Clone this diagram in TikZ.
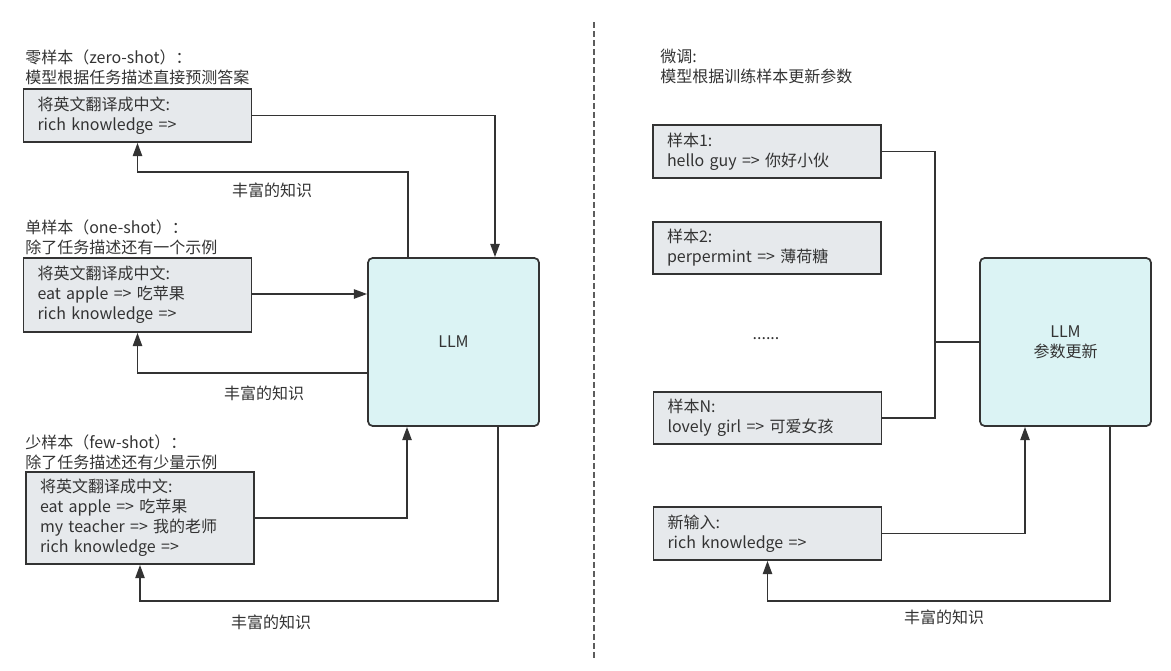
\documentclass[tikz,border=0pt]{standalone}
\usepackage{fontspec}
\setmainfont{Noto Sans CJK SC}
\usetikzlibrary{arrows.meta}
\definecolor{ln}{HTML}{333333}
\definecolor{txt}{HTML}{333333}
\definecolor{boxfill}{HTML}{E6E9EC}
\definecolor{llmfill}{HTML}{DBF3F4}
\tikzset{
  every node/.style={text=txt, font=\fontsize{12pt}{15pt}\selectfont},
  tbox/.style={draw=ln, fill=boxfill, line width=1.3pt, inner xsep=10.5pt, inner ysep=0pt,
    text width=150pt, align=left},
  llmbox/.style={draw=ln, fill=llmfill, line width=1.3pt, rounded corners=3.5pt,
    minimum width=128.25pt, minimum height=126pt, align=center},
  title/.style={anchor=west, align=left, inner sep=0pt},
  lbl/.style={inner sep=0pt},
  conn/.style={draw=ln, line width=1.3pt},
  arr/.style={conn, -{Triangle[length=10pt,width=7pt]}},
}
\begin{document}
\begin{tikzpicture}[x=0.75pt,y=-0.75pt]
\useasboundingbox (0,0) rectangle (1171,671);
% divider
\draw[draw=ln!80, line width=0.8pt, dash pattern=on 4.5pt off 2.25pt] (594,22) -- (594,659);

% ---------- left side ----------
\node[title] (t1) at (25,67) {零样本（zero-shot）：\\模型根据任务描述直接预测答案};
\node[tbox, minimum height=39.75pt] (z) at (137.5,115.5) {将英文翻译成中文:\\rich knowledge =>};

\node[title] (t2) at (25,237) {单样本（one-shot）：\\除了任务描述还有一个示例};
\node[tbox, minimum height=55.5pt] (o) at (137.5,295) {将英文翻译成中文:\\eat apple => 吃苹果\\rich knowledge =>};

\node[title] (t3) at (25,452.5) {少样本（few-shot）：\\除了任务描述还有少量示例};
\node[tbox, minimum height=69pt] (f) at (140,518) {将英文翻译成中文:\\eat apple => 吃苹果\\my teacher => 我的老师\\rich knowledge =>};

\node[llmbox] (llm) at (453.5,342) {LLM};

\coordinate (xa) at (495,0);
\coordinate (xb) at (408,172);
\coordinate (yd) at (137,373);
\coordinate (xe) at (407,0);
\coordinate (yf) at (498,601);
\coordinate (yc) at (0,294);

\draw[arr] (z.east) -| (xa |- llm.north);
\draw[arr] (llm.north -| xb) -- (xb) -| (z.south);
\draw[arr] (o.east |- yc) -- (llm.west |- yc);
\draw[arr] (llm.west |- yd) -| (o.south);
\draw[arr] (f.east) -| (xe |- llm.south);
\draw[arr] (llm.south -| yf) -- (yf) -| (f.south);

\node[lbl] (k1) at (272,190) {丰富的知识};
\node[lbl] (k2) at (264,393) {丰富的知识};
\node[lbl] (k3) at (271,622) {丰富的知识};

% ---------- right side ----------
\node[title] (t4) at (660,66) {微调:\\模型根据训练样本更新参数};
\node[tbox, minimum height=39.75pt] (s1) at (767,151.5) {样本1:\\hello guy => 你好小伙};
\node[tbox, minimum height=39pt] (s2) at (767,248) {样本2:\\perpermint => 薄荷糖};
\node[lbl] (dots) at (766,339) {......};
\node[tbox, minimum height=39pt] (sn) at (767.5,418) {样本N:\\lovely girl => 可爱女孩};
\node[tbox, minimum height=39.75pt] (nw) at (767.5,533.5) {新输入:\\rich knowledge =>};

\node[llmbox] (llm2) at (1065.5,342) {LLM\\参数更新};

\coordinate (jn) at (935,418);
\coordinate (xg) at (1025,0);
\coordinate (yh) at (1110,601);

\draw[conn] (s1.east) -| (jn) -- (sn.east);
\draw[conn] (llm2.west) -- (llm2.west -| jn);
\draw[arr] (nw.east) -| (xg |- llm2.south);
\draw[arr] (llm2.south -| yh) -- (yh) -| (nw.south);

\node[lbl] (k4) at (944,617) {丰富的知识};
\end{tikzpicture}
\end{document}
